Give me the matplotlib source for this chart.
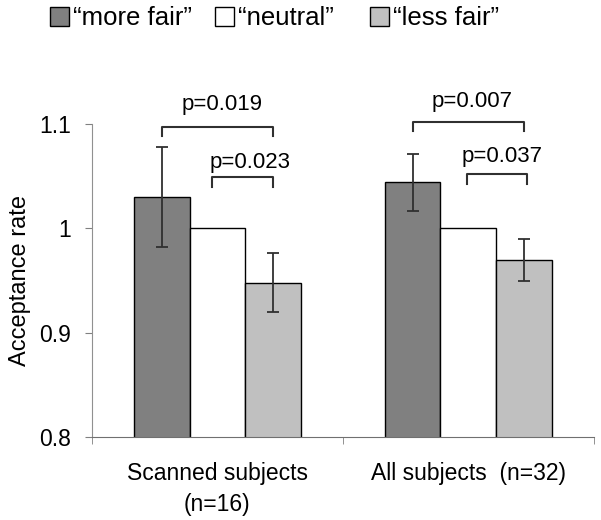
import matplotlib
matplotlib.use("Agg")
import matplotlib.pyplot as plt
import numpy as np

plt.rcParams['font.family'] = ['Liberation Sans', 'DejaVu Sans']

groups = ["Scanned subjects\n(n=16)", "All subjects  (n=32)"]
series = ["\u201cmore fair\u201d", "\u201cneutral\u201d", "\u201cless fair\u201d"]
more_fair = [1.030, 1.044]
neutral = [1.000, 1.000]
less_fair = [0.948, 0.970]
more_fair_err = [0.048, 0.027]
less_fair_err = [0.028, 0.020]
p_outer = ["p=0.019", "p=0.007"]
p_inner = ["p=0.023", "p=0.037"]
yticks = [0.8, 0.9, 1.0, 1.1]
ytick_labels = ["0.8", "0.9", "1", "1.1"]

colors = ["#808080", "#ffffff", "#c0c0c0"]

fig = plt.figure(figsize=(6.01, 5.2), dpi=100)
ax = fig.add_axes([0.153, 0.1596, 0.835, 0.6019])

x = np.arange(len(groups))
w = 0.222
vals = [more_fair, neutral, less_fair]
errs = [more_fair_err, None, less_fair_err]
handles = []
for i, (v, c, e) in enumerate(zip(vals, colors, errs)):
    pos = x + (i - 1) * w
    b = ax.bar(pos, v, width=w, bottom=0, color=c, edgecolor="#000000", linewidth=1.0,
               label=series[i], zorder=2)
    handles.append(b)
    if e is not None:
        ax.errorbar(pos, v, yerr=e, fmt="none", ecolor="#303030", elinewidth=1.3,
                    capsize=4.5, capthick=1.3, zorder=3)

ax.set_ylim(0.8, 1.1)
ax.set_xlim(-0.5, 1.5)
ax.set_yticks(yticks)
ax.set_yticklabels(ytick_labels, fontsize=16.5)
ax.set_xticks(x)
ax.set_xticklabels(groups, fontsize=16.5, linespacing=1.45)
ax.set_xticks([-0.5, 0.5, 1.5], minor=True)
ax.tick_params(axis="x", which="major", length=0, pad=18)
ax.tick_params(axis="x", which="minor", length=5, color="#808080", direction="out")
ax.tick_params(axis="y", length=5, color="#808080", pad=10)
ax.set_ylabel("Acceptance rate", fontsize=17, labelpad=6)

for s in ["top", "right"]:
    ax.spines[s].set_visible(False)
ax.spines["left"].set_color("#909090")
ax.spines["bottom"].set_color("#707070")

# significance brackets
def bracket(x0, x1, ytop, leg, text, tx, ty):
    ax.plot([x0, x0, x1, x1], [ytop - leg, ytop, ytop, ytop - leg], color="#303030",
            lw=1.5, clip_on=False, zorder=4)
    ax.text(tx, ty, text, ha="center", va="baseline", fontsize=16, clip_on=False)

bracket(x[0] - w, x[0] + w, 1.0975, 0.009, p_outer[0], x[0] + 0.02, 1.1137)
bracket(x[0] - 0.02, x[0] + w, 1.049, 0.009, p_inner[0], x[0] + 0.13, 1.0582)
bracket(x[1] - w, x[1] + w, 1.102, 0.009, p_outer[1], x[1] + 0.015, 1.116)
bracket(x[1] - 0.005, x[1] + w + 0.01, 1.0525, 0.01, p_inner[1], x[1] + 0.135, 1.064)

# legend entries placed individually to match spacing
leg_x = [0.083, 0.358, 0.615]
for hx, h, lab in zip(leg_x, handles, series):
    lg = fig.legend(handles=[h], labels=[lab], loc="center left", bbox_to_anchor=(hx, 0.965),
                    frameon=False, fontsize=18.5, handlelength=0.75, handleheight=0.75,
                    handletextpad=0.15, borderaxespad=0, borderpad=0)

fig.savefig("out.png", dpi=100)
